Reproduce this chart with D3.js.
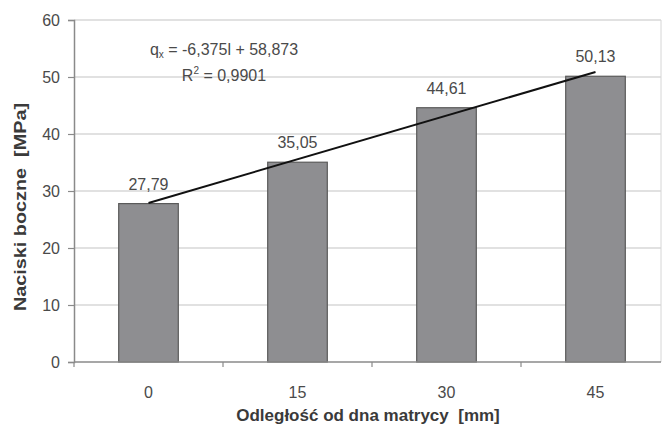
<!DOCTYPE html>
<html>
<head>
<meta charset="utf-8">
<script src="https://cdn.jsdelivr.net/npm/d3@7"></script>
<style>
  html, body { margin: 0; padding: 0; background: #fff; }
  svg { display: block; }
  text { font-family: "Liberation Sans", Arial, sans-serif; }
</style>
</head>
<body>
<svg id="chart" width="663" height="428"></svg>
<script>
// Side pressure vs. distance from the die bottom
const categories = ["0", "15", "30", "45"];
const values = [27.79, 35.05, 44.61, 50.13];
const valueLabels = ["27,79", "35,05", "44,61", "50,13"];
const yTicks = [0, 10, 20, 30, 40, 50, 60];
const equationText = "-6,375l + 58,873";
const r2Text = "0,9901";

const W = 663, H = 428;
const plot = { left: 74, right: 661, top: 20, bottom: 362 };
const textColor = "#4a4a4a";

const svg = d3.select("#chart");

const x = d3.scaleBand()
  .domain(categories)
  .range([plot.left, plot.left + 4 * 149])
  .paddingInner(0.6)
  .paddingOuter(0.3);

const y = d3.scaleLinear()
  .domain([0, 60])
  .range([plot.bottom, plot.top]);

// Horizontal gridlines
svg.append("g")
  .selectAll("line")
  .data(yTicks.filter(d => d > 0))
  .join("line")
  .attr("x1", plot.left).attr("x2", plot.right)
  .attr("y1", d => y(d)).attr("y2", d => y(d))
  .attr("stroke", "#c4c4c4").attr("stroke-width", 1.2);

// Right border of the plot area
svg.append("line")
  .attr("x1", plot.right).attr("x2", plot.right)
  .attr("y1", plot.top).attr("y2", plot.bottom)
  .attr("stroke", "#d6d6d6").attr("stroke-width", 1);

// Y axis
const yAxis = d3.axisLeft(y).tickValues(yTicks).tickSize(6).tickPadding(8);
const gy = svg.append("g")
  .attr("transform", `translate(${plot.left},0)`)
  .call(yAxis);
gy.select(".domain").attr("stroke", "#8a8a8a").attr("stroke-width", 1.5);
gy.selectAll(".tick line").attr("stroke", "#8a8a8a").attr("stroke-width", 1.2);
gy.selectAll(".tick text")
  .attr("fill", textColor).attr("font-size", 16);

// Bars
svg.append("g")
  .selectAll("rect")
  .data(values)
  .join("rect")
  .attr("x", (d, i) => x(categories[i]))
  .attr("y", d => y(d))
  .attr("width", x.bandwidth())
  .attr("height", d => y(0) - y(d))
  .attr("fill", "#8e8e91")
  .attr("stroke", "#5a5a5a")
  .attr("stroke-width", 1.2);

// X axis with boundary ticks between categories
const gx = svg.append("g");
gx.append("line")
  .attr("x1", plot.left).attr("x2", plot.right)
  .attr("y1", y(0)).attr("y2", y(0))
  .attr("stroke", "#8a8a8a").attr("stroke-width", 1.5);
const step = x.step();
gx.selectAll("line.bound")
  .data(categories)
  .join("line")
  .attr("class", "bound")
  .attr("x1", d => x(d) + x.bandwidth() / 2 - step / 2)
  .attr("x2", d => x(d) + x.bandwidth() / 2 - step / 2)
  .attr("y1", y(0)).attr("y2", y(0) + 5)
  .attr("stroke", "#8a8a8a").attr("stroke-width", 1.2);
gx.selectAll("text")
  .data(categories)
  .join("text")
  .attr("x", d => x(d) + x.bandwidth() / 2)
  .attr("y", y(0) + 36)
  .attr("text-anchor", "middle")
  .attr("fill", textColor).attr("font-size", 16)
  .text(d => d);

// Value labels above bars
svg.append("g")
  .selectAll("text")
  .data(values)
  .join("text")
  .attr("x", (d, i) => x(categories[i]) + x.bandwidth() / 2)
  .attr("y", d => y(d) - 14)
  .attr("text-anchor", "middle")
  .attr("fill", textColor).attr("font-size", 16)
  .text((d, i) => valueLabels[i]);

// Linear trend line (least squares over category index)
const xs = values.map((d, i) => i + 1);
const mx = d3.mean(xs), my = d3.mean(values);
const slope = d3.sum(xs, (xi, i) => (xi - mx) * (values[i] - my)) / d3.sum(xs, xi => (xi - mx) ** 2);
const intercept = my - slope * mx;
const trend = [1, 4].map(xi => ({ cat: categories[xi - 1], v: slope * xi + intercept }));
svg.append("path")
  .datum(trend)
  .attr("fill", "none")
  .attr("stroke", "#111")
  .attr("stroke-width", 2)
  .attr("d", d3.line()
    .x(d => x(d.cat) + x.bandwidth() / 2)
    .y(d => y(d.v)));

// Trend equation and coefficient of determination
const eq = svg.append("text")
  .attr("x", 224).attr("y", 55)
  .attr("text-anchor", "middle")
  .attr("fill", textColor).attr("font-size", 16);
eq.append("tspan").text("q");
eq.append("tspan").attr("font-size", 10).attr("dy", 3).text("x");
eq.append("tspan").attr("dy", -3).text(" = " + equationText);

const r2 = svg.append("text")
  .attr("x", 224).attr("y", 81)
  .attr("text-anchor", "middle")
  .attr("fill", textColor).attr("font-size", 16);
r2.append("tspan").text("R");
r2.append("tspan").attr("font-size", 10).attr("dy", -7).text("2");
r2.append("tspan").attr("dy", 7).text(" = " + r2Text);

// Axis titles
svg.append("text")
  .attr("x", 368)
  .attr("y", 421)
  .attr("text-anchor", "middle")
  .attr("fill", "#3a3a3a").attr("font-size", 17).attr("font-weight", "bold")
  .attr("xml:space", "preserve")
  .text("Odległość od dna matrycy  [mm]");

svg.append("text")
  .attr("transform", "translate(26,207) rotate(-90)")
  .attr("text-anchor", "middle")
  .attr("fill", "#3a3a3a").attr("font-size", 17).attr("font-weight", "bold")
  .attr("xml:space", "preserve")
  .attr("textLength", 208)
  .attr("lengthAdjust", "spacingAndGlyphs")
  .text("Naciski boczne  [MPa]");
</script>
</body>
</html>
